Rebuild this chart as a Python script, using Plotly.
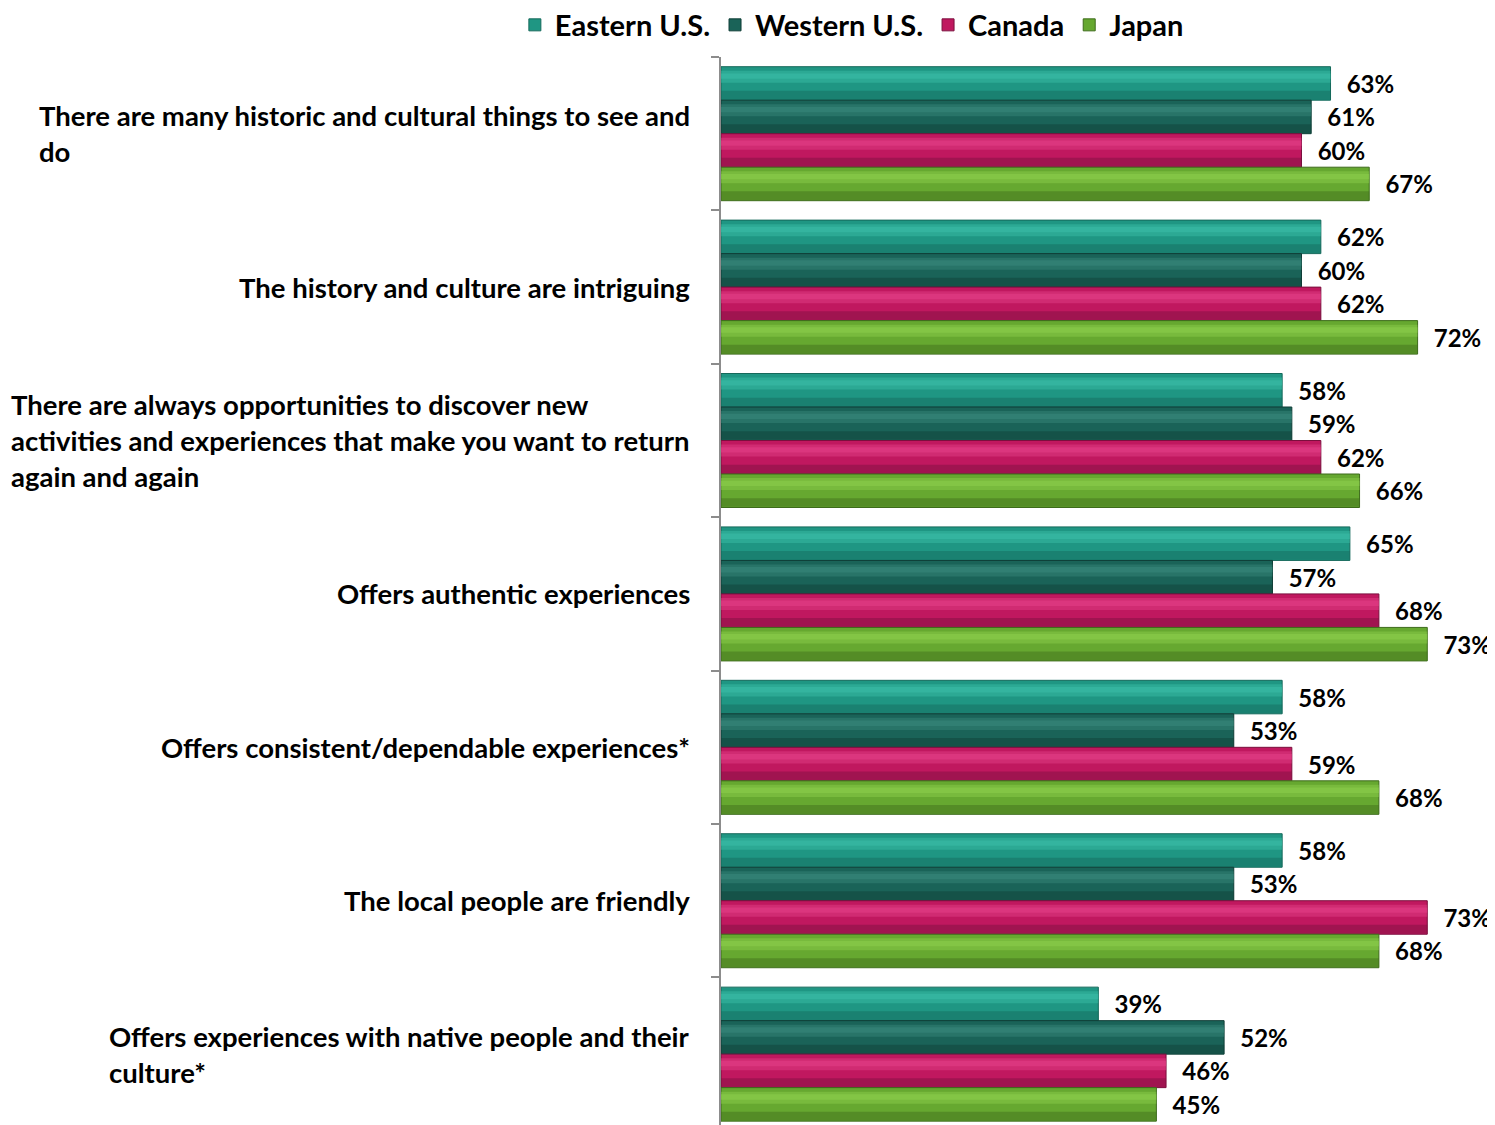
import plotly.graph_objects as go

categories = [
    "There are many historic and cultural things to see and<br>do",
    "The history and culture are intriguing",
    "There are always opportunities to discover new<br>activities and experiences that make you want to return<br>again and again",
    "Offers authentic experiences",
    "Offers consistent/dependable experiences*",
    "The local people are friendly",
    "Offers experiences with native people and their<br>culture*",
]
series_names = ["Eastern U.S.", "Western U.S.", "Canada", "Japan"]
eastern = [63, 62, 58, 65, 58, 58, 39]
western = [61, 60, 59, 57, 53, 53, 52]
canada = [60, 62, 62, 68, 59, 73, 46]
japan = [67, 72, 66, 73, 68, 68, 45]
values = [eastern, western, canada, japan]

# (mid, light, dark)
palette = [
    ("#1f9683", "#3cc0a9", "#15695b"),
    ("#1a6358", "#3a8a7d", "#0f3d36"),
    ("#c0185f", "#e5428a", "#7a0f3d"),
    ("#66a830", "#8dd04d", "#3d6b1b"),
]

FONT = "Lato, Carlito, Calibri, sans-serif"
group = 0.8735
w = group / 4

fig = go.Figure()
for j, (name, vals) in enumerate(zip(series_names, values)):
    mid, light, dark = palette[j]
    off = -group / 2 + j * w
    fig.add_trace(go.Bar(
        y=categories, x=vals, orientation="h", name=name,
        offset=off, width=w,
        marker=dict(color=mid, line=dict(width=1, color=dark)),
        text=vals, texttemplate="\u00a0\u00a0\u200a%{x}%",
        textposition="outside", constraintext="none", cliponaxis=False,
        textfont=dict(family=FONT, size=24, color="black", weight="bold"),
        hoverinfo="skip",
    ))
    # highlight band (upper part)
    fig.add_trace(go.Bar(
        y=categories, x=vals, orientation="h", showlegend=False,
        offset=off + 0.12 * w, width=0.36 * w,
        marker=dict(color=light, opacity=0.45, line=dict(width=0)),
        hoverinfo="skip",
    ))
    fig.add_trace(go.Bar(
        y=categories, x=vals, orientation="h", showlegend=False,
        offset=off + 0.2 * w, width=0.16 * w,
        marker=dict(color=light, opacity=0.5, line=dict(width=0)),
        hoverinfo="skip",
    ))
    # shadow band (lower part)
    fig.add_trace(go.Bar(
        y=categories, x=vals, orientation="h", showlegend=False,
        offset=off + 0.72 * w, width=0.26 * w,
        marker=dict(color=dark, opacity=0.45, line=dict(width=0)),
        hoverinfo="skip",
    ))

annotations = []
for cat in categories:
    annotations.append(dict(
        x=-0.0375, xref="paper", y=cat, yref="y",
        xanchor="right", yanchor="middle", align="left",
        text=cat, showarrow=False,
        font=dict(family=FONT, size=27.5, color="black", weight="bold"),
    ))

fig.update_layout(
    width=1487, height=1117,
    margin=dict(l=713, r=0, t=49, b=0, autoexpand=False),
    barmode="overlay",
    plot_bgcolor="white", paper_bgcolor="white",
    showlegend=True,
    legend=dict(
        orientation="h", xref="container", x=0.5675, xanchor="center",
        yref="container", y=1 - 17 / 1117, yanchor="middle",
        font=dict(family=FONT, size=29, color="black", weight="bold"),
        traceorder="normal", itemwidth=30,
    ),
    annotations=annotations,
    xaxis=dict(range=[0, 80], visible=False, showgrid=False, zeroline=False),
    yaxis=dict(
        type="category", categoryorder="array", categoryarray=categories,
        range=[6.462, -0.5], showticklabels=False,
        tickson="boundaries", ticks="outside", ticklen=8, tickwidth=2,
        tickcolor="#8c8c8c", showline=True, linecolor="#8c8c8c", linewidth=2,
        showgrid=False, zeroline=False,
    ),
)

fig.write_html("out.html")
